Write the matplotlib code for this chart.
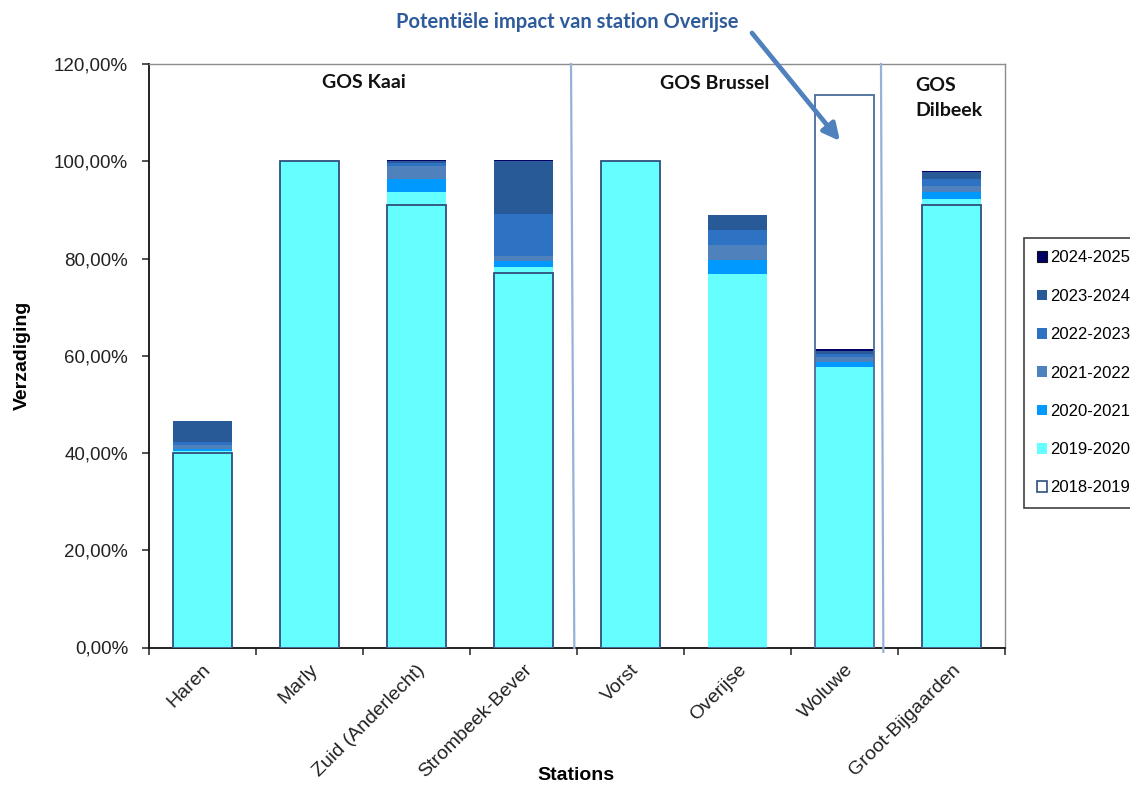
import matplotlib
matplotlib.use("Agg")
import matplotlib.pyplot as plt
from matplotlib.patches import Patch
import numpy as np

# ---- data (cumulative saturation level, %, reached per season) ----
stations = ["Haren", "Marly", "Zuid (Anderlecht)", "Strombeek-Bever",
            "Vorst", "Overijse", "Woluwe", "Groot-Bijgaarden"]
s2018_2019 = [40.0, 100.0, 91.0, 77.1, 100.0, 0.0, 0.0, 91.0]
s2019_2020 = [40.4, 100.0, 93.6, 78.3, 100.0, 76.8, 57.6, 92.3]
s2020_2021 = [40.9, 100.0, 96.3, 79.5, 100.0, 79.7, 58.7, 93.6]
s2021_2022 = [41.6, 100.0, 99.0, 80.5, 100.0, 82.8, 59.7, 94.9]
s2022_2023 = [42.3, 100.0, 99.7, 89.2, 100.0, 85.9, 60.4, 96.3]
s2023_2024 = [46.6, 100.0, 100.0, 100.0, 100.0, 88.9, 61.0, 97.7]
s2024_2025 = [46.6, 100.0, 100.3, 100.3, 100.0, 88.9, 61.3, 98.0]
impact_overijse = [0, 0, 0, 0, 0, 0, 113.7, 0]   # potential impact box (Woluwe)

season_labels = ["2018-2019", "2019-2020", "2020-2021", "2021-2022",
                 "2022-2023", "2023-2024", "2024-2025"]
yticks = [0, 20, 40, 60, 80, 100, 120]
ytick_labels = ["0,00%", "20,00%", "40,00%", "60,00%", "80,00%", "100,00%", "120,00%"]
group_labels = ["GOS Kaai", "GOS Brussel", "GOS\nDilbeek"]

# ---- style ----
colors = {
    "2019-2020": "#66FFFF",
    "2020-2021": "#0099FF",
    "2021-2022": "#4F81BD",
    "2022-2023": "#2E72C4",
    "2023-2024": "#285A98",
    "2024-2025": "#000066",
}
outline_col = "#2F4F7F"
sep_col = "#95B3D7"

plt.rcParams["font.family"] = ["Liberation Sans", "DejaVu Sans"]

fig = plt.figure(figsize=(11.3, 7.87), dpi=100)
ax = fig.add_axes([149 / 1130, 1 - 647.5 / 787, 856 / 1130, 583.5 / 787])

x = np.arange(len(stations))
w = 0.55
levels = [s2019_2020, s2020_2021, s2021_2022, s2022_2023, s2023_2024, s2024_2025]
names = season_labels[1:]
prev = np.zeros(len(stations))
for lev, nm in zip(levels, names):
    lev = np.array(lev, dtype=float)
    h = np.clip(lev - prev, 0, None)
    ax.bar(x, h, w, bottom=prev, color=colors[nm], linewidth=0, zorder=2)
    prev = np.maximum(prev, lev)

# 2018-2019 outline-only bars
ax.bar(x, s2018_2019, w, fill=False, edgecolor=outline_col, linewidth=1.3, zorder=3)
# potential impact box
ax.bar(x, impact_overijse, w, fill=False, edgecolor="#4A6C9B", linewidth=1.3, zorder=3)

ax.set_xlim(-0.5, len(stations) - 0.5)
ax.set_ylim(0, 120)
ax.set_yticks(yticks)
ax.set_yticklabels(ytick_labels, fontsize=13.5, color="#222222")
ax.set_xticks(np.arange(len(stations) + 1) - 0.5, minor=False)
ax.set_xticklabels([])
ax.set_xticks(x, minor=True)
ax.set_xticklabels(stations, minor=True, rotation=45, ha="right",
                   rotation_mode="anchor", fontsize=14, color="#222222")
ax.tick_params(axis="x", which="minor", length=0, pad=10)
ax.tick_params(axis="x", which="major", length=5, width=1.2, color="#333333")
ax.tick_params(axis="y", length=5, width=1.2, color="#333333", pad=10)

for s in ["left", "bottom"]:
    ax.spines[s].set_color("#111111")
    ax.spines[s].set_linewidth(1.3)
for s in ["top", "right"]:
    ax.spines[s].set_color("#8C8C8C")
    ax.spines[s].set_linewidth(1.0)

ax.set_ylabel("Verzadiging", fontsize=14, fontweight="bold")
ax.yaxis.label.set_va("center")
ax.yaxis.set_label_coords(-(149 - 22) / 856, (647.5 - 355) / 583.5)
ax.set_xlabel("Stations", fontsize=14, fontweight="bold")
ax.xaxis.label.set_va("center")
ax.xaxis.set_label_coords((576 - 149) / 856, -(776 - 647.5) / 583.5)

# group separators (hand-drawn lines)
seps = [((3.444, 120), (3.475, -0.1)), ((6.341, 120), (6.363, -0.9))]
for (x0, y0), (x1, y1) in seps:
    ax.plot([x0, x1], [y0, y1], color=sep_col, lw=1.6, clip_on=False, zorder=4)

# group labels
gfont = dict(family=["Lato", "DejaVu Sans"], fontweight="bold", fontsize=14, color="#111111")
ax.text(1.51, 116.1, group_labels[0], ha="center", va="center", **gfont)
ax.text(4.79, 115.9, group_labels[1], ha="center", va="center", **gfont)
ax.text(6.66, 117.4, group_labels[2], ha="left", va="top", linespacing=1.62, **gfont)

# annotation title + arrow
fig.text(567 / 1130, 1 - 22 / 787, "Potentiële impact van station Overijse",
         ha="center", va="center", family=["Lato", "DejaVu Sans"],
         fontweight="bold", fontsize=14.5, color="#2E5B9A")
ax.annotate("", xy=(840, 787 - 141), xycoords="figure pixels",
            xytext=(752, 787 - 33), textcoords="figure pixels",
            arrowprops=dict(arrowstyle="-|>,head_length=1.0,head_width=0.5",
                            color="#4F81BD", lw=3.4, shrinkA=0, shrinkB=0),
            annotation_clip=False)

# legend
handles = []
for nm in season_labels[::-1]:
    if nm == "2018-2019":
        handles.append(Patch(facecolor="white", edgecolor=outline_col, linewidth=1.2, label=nm))
    elif nm == "2024-2025":
        handles.append(Patch(facecolor=colors[nm], edgecolor="#111111", linewidth=0.8, label=nm))
    else:
        handles.append(Patch(facecolor=colors[nm], edgecolor="none", label=nm))
leg = fig.legend(handles=handles, loc="upper left",
                 bbox_to_anchor=(1024 / 1130, 1 - 238 / 787),
                 fontsize=12, frameon=True, fancybox=False, edgecolor="#111111",
                 handlelength=0.6, handleheight=0.6, handletextpad=0.2,
                 labelspacing=1.4, borderpad=0.75, borderaxespad=0)
leg.get_frame().set_linewidth(1.2)

fig.savefig("out.png", dpi=100)
